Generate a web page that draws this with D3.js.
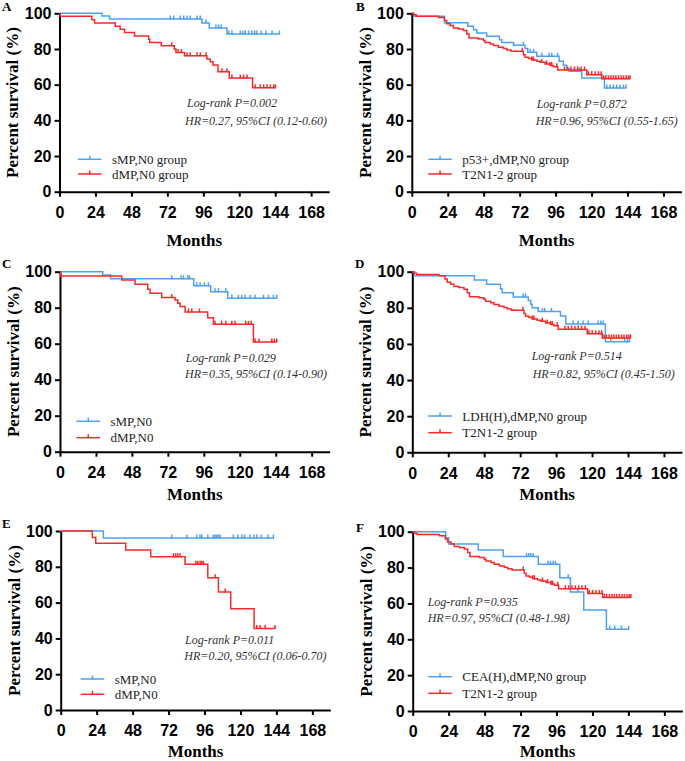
<!DOCTYPE html>
<html><head><meta charset="utf-8">
<script src="https://cdn.jsdelivr.net/npm/d3@7"></script>
<style>body{margin:0;background:#fff}svg{display:block}</style>
</head><body>
<svg id="c" width="685" height="761"></svg>
<script>
// ---------- data ----------
const xTicks = [0, 24, 48, 72, 96, 120, 144, 168];
const yTicks = [0, 20, 40, 60, 80, 100];

// Panel A
const A_sMP_steps = [[28.3, 98.5], [33.4, 96.8], [95.1, 94.6], [100, 91.8], [111.8, 88.4]];
const A_sMP_censor = [73.9, 76.2, 80.6, 82.9, 85.1, 87.3, 91.8, 94.0, 97.8, 104.4, 106.2, 108.0, 112.9, 115.1, 120.7, 122.5, 124.0, 126.3, 128.5, 130.3, 131.8, 134.7, 137.9, 141.9, 146.8];
const A_dMP_steps = [[0.5, 98.3], [21.6, 96.4], [23.4, 94.6], [37.2, 92.7], [40.5, 91.0], [43.4, 89.3], [50.1, 87.3], [59.5, 85.4], [60.2, 83.7], [67.9, 81.8], [76.6, 80.0], [77.7, 78.0], [83.5, 76.2], [98.4, 74.4], [100.7, 72.8], [102.5, 71.0], [105.8, 67.3], [113.3, 63.7], [128.9, 58.2]];
const A_dMP_censor = [75.0, 79.1, 81.3, 85.1, 87.3, 91.8, 94.0, 97.8, 108.5, 111.8, 115.1, 120.7, 122.9, 125.2, 130.7, 134.0, 136.3, 138.5, 140.8, 143.0, 144.1];

// T2N1-2 group (panels B, D, F)
const T2N12_steps = [[1, 99.2], [3, 98.4], [17.8, 97.7], [21.8, 95.9], [23.3, 94.2], [25.6, 93.1], [27.8, 91.8], [31.1, 91.2], [34.5, 90.3], [36.7, 88.4], [38.2, 86.1], [44.5, 85.6], [47.8, 84.7], [48.9, 83.7], [52.3, 82.8], [54.5, 81.9], [57.8, 80.9], [61.2, 80.2], [63.4, 79.4], [66.3, 78.7], [74.5, 76.8], [75.6, 75.3], [77.9, 74.6], [80.1, 73.8], [83.4, 73.1], [85.6, 72.5], [89.0, 71.6], [92.3, 70.8], [94.5, 70.1], [97.4, 68.2], [116.8, 65.6], [126.8, 63.3]];
const T2N12_censor = [73.8, 80.1, 81.2, 86.7, 90.0, 92.3, 93.4, 96.8, 101.9, 104.1, 106.3, 108.6, 110.8, 113.0, 115.3, 117.9, 120.1, 122.4, 124.6, 126.4, 128.0, 129.5, 131.3, 133.0, 134.6, 136.2, 137.9, 139.7, 141.3, 143.1, 144.6, 145.7];

// Panel B
const B_p53_steps = [[1.5, 98.3], [21.8, 94.7], [37.4, 92.7], [41.2, 90.8], [43.4, 88.9], [50.0, 87.1], [58.5, 85.2], [60.1, 83.7], [67.9, 82.1], [75.6, 80.2], [77.4, 78.1], [83.4, 75.9], [98.3, 73.1], [101.2, 70.9], [103.4, 68.9], [105, 67.5], [113.5, 63.7], [128.6, 58.1]];
const B_p53_censor = [74.5, 79.0, 81.2, 86.8, 91.6, 93.4, 97.4, 112.0, 130.2, 132.4, 134.6, 136.8, 139.0, 141.3, 143.0];

// Panel C
const C_sMP_steps = [[28.5, 98.2], [33.8, 96.1], [89.3, 92.2], [100.6, 88.9], [112, 85.2]];
const C_sMP_censor = [74.6, 80.8, 82.4, 85.3, 86.4, 91.3, 93.5, 96.4, 99.1, 103.5, 105.8, 110.7, 114.7, 119.1, 121.3, 123.6, 126.9, 130.2, 135.8, 139.2, 142.5, 144.7];
const C_dMP_steps = [[0.3, 97.6], [41.2, 95.4], [50.1, 93.0], [58.6, 90.2], [60.1, 88.0], [67.9, 85.6], [76.8, 84.3], [78.6, 82.5], [80.2, 80.6], [83.5, 77.6], [98.6, 74.4], [102.4, 70.8], [129.1, 60.9]];
const C_dMP_censor = [74.6, 85.7, 88.0, 93.1, 103.5, 107.9, 110.7, 114.7, 116.9, 124.0, 125.8, 127.6, 130.2, 132.9, 141.4, 143.1, 144.7];

// Panel D
const D_LDH_steps = [[1.4, 97.8], [41.4, 95.4], [49.6, 93.0], [58.9, 90.6], [60, 88.4], [67.4, 86.0], [77.4, 84.0], [79.1, 82.0], [80, 80.0], [84, 78.0], [98.9, 75.5], [102.5, 71.0], [128.9, 61.2]];
const D_LDH_censor = [74.0, 75.6, 86.9, 88.4, 92.9, 107.4, 110.7, 114.0, 117.4, 124.0, 125.8, 127.4, 132.5, 141.8, 143.6, 145.0];

// Panel E
const E_sMP_steps = [[28.5, 96.1]];
const E_sMP_censor = [74.1, 84.2, 90.8, 93.0, 94.2, 98.2, 101.9, 103.1, 104.2, 105.3, 106.4, 115.3, 118.2, 120.9, 122.7, 126.4, 129.1, 130.9, 133.8, 138.3, 142.0];
const E_dMP_steps = [[21.1, 96.3], [23.4, 93.1], [43.4, 89.4], [60.1, 85.6], [83.0, 81.4], [98.2, 73.9], [105.3, 65.9], [113.5, 56.6], [129.1, 45.6]];
const E_dMP_censor = [75.3, 76.8, 78.2, 79.7, 90.2, 91.5, 93.1, 94.2, 95.3, 103.1, 109.8, 130.9, 133.1, 136.5, 143.1];

// Panel F
const F_CEA_steps = [[22, 96.6], [24, 93.1], [43.8, 89.8], [60.4, 86.1], [83.8, 81.8], [98.2, 74.3], [105.3, 66.4], [114.2, 56.3], [129.3, 45.6]];
const F_CEA_censor = [76.0, 77.5, 78.9, 80.4, 90.4, 92.0, 93.8, 95.3, 103.8, 110.4, 131.5, 134.9, 139.3, 144.2];

const panelLetters = ["A", "B", "C", "D", "E", "F"];
const legendLabels = [
  ["sMP,N0 group", "dMP,N0 group"],
  ["p53+,dMP,N0 group", "T2N1-2 group"],
  ["sMP,N0", "dMP,N0"],
  ["LDH(H),dMP,N0 group", "T2N1-2 group"],
  ["sMP,N0", "dMP,N0"],
  ["CEA(H),dMP,N0 group", "T2N1-2 group"]
];
const statLines = [
  ["Log-rank P=0.002", "HR=0.27, 95%CI (0.12-0.60)"],
  ["Log-rank P=0.872", "HR=0.96, 95%CI (0.55-1.65)"],
  ["Log-rank P=0.029", "HR=0.35, 95%CI (0.14-0.90)"],
  ["Log-rank P=0.514", "HR=0.82, 95%CI (0.45-1.50)"],
  ["Log-rank P=0.011", "HR=0.20, 95%CI (0.06-0.70)"],
  ["Log-rank P=0.935", "HR=0.97, 95%CI (0.48-1.98)"]
];
const seriesSteps = [
  [A_sMP_steps, A_dMP_steps],
  [B_p53_steps, T2N12_steps],
  [C_sMP_steps, C_dMP_steps],
  [D_LDH_steps, T2N12_steps],
  [E_sMP_steps, E_dMP_steps],
  [F_CEA_steps, T2N12_steps]
];
const seriesCensor = [
  [A_sMP_censor, A_dMP_censor],
  [B_p53_censor, T2N12_censor],
  [C_sMP_censor, C_dMP_censor],
  [D_LDH_censor, T2N12_censor],
  [E_sMP_censor, E_dMP_censor],
  [F_CEA_censor, T2N12_censor]
];

// ---------- layout ----------
const colors = ["#4ea1f2", "#f52a2a"];
const SERIF = "'Liberation Serif', 'Times New Roman', Times, serif";
const SANS = "'Liberation Sans', Arial, Helvetica, sans-serif";
const layout = [
  {ox: 59.5, top: 13.3, bot: 191.7, leg: [146, 160.7], legX: 18.5, stat: [187, 107.3, 185, 125], let: [2, 11], mo: 54},
  {ox: 411.8, top: 13.3, bot: 191.7, leg: [146, 160.7], legX: 16.5, stat: [536.7, 108.3, 535.7, 125], let: [356, 11], mo: 54},
  {ox: 60, top: 271.7, bot: 451.7, leg: [149.6, 166], legX: 16.5, stat: [185.7, 361.7, 185, 378.3], let: [2, 268], mo: 48},
  {ox: 412.3, top: 271.7, bot: 452.3, leg: [144.3, 161], legX: 16, stat: [531.7, 360, 532.7, 377.7], let: [355, 268], mo: 48},
  {ox: 60.7, top: 531, bot: 710, leg: [148, 163.3], legX: 20, stat: [185, 644, 184.3, 660], let: [2, 528], mo: 47},
  {ox: 412.7, top: 531.7, bot: 711, leg: [145, 161.6], legX: 15.6, stat: [427.7, 606, 427.7, 621.7], let: [356, 532], mo: 46}
];
const pxPerMonth = 1.498;

const svg = d3.select("#c");

function survAt(steps, t) {
  let s = 100;
  for (const [tt, v] of steps) { if (tt <= t) s = v; }
  return s;
}

layout.forEach((L, i) => {
  const x = d3.scaleLinear().domain([0, 180]).range([L.ox, L.ox + 180 * pxPerMonth]);
  const y = d3.scaleLinear().domain([0, 100]).range([L.bot, L.top]);
  const g = svg.append("g");

  // axes
  const ya = g.append("g").attr("transform", `translate(${L.ox},0)`)
    .call(d3.axisLeft(y).tickValues(yTicks).tickSize(5).tickPadding(3).tickSizeOuter(0));
  const xa = g.append("g").attr("transform", `translate(0,${L.bot})`)
    .call(d3.axisBottom(x).tickValues(xTicks).tickSize(5).tickPadding(10).tickSizeOuter(0));
  [ya, xa].forEach(a => {
    a.select(".domain").attr("stroke", "#000").attr("stroke-width", 2);
    a.selectAll(".tick line").attr("stroke", "#000").attr("stroke-width", 2);
    a.selectAll("text").attr("font-family", SANS)
      .attr("font-weight", "bold").attr("font-size", 16).attr("fill", "#000");
  });

  // axis titles
  g.append("text").attr("x", x(90)).attr("y", L.bot + L.mo)
    .attr("text-anchor", "middle").attr("font-family", SERIF)
    .attr("font-weight", "bold").attr("font-size", 17).text("Months");
  g.append("text").attr("transform", `translate(${L.ox - 47},${(L.top + L.bot) / 2}) rotate(-90)`)
    .attr("text-anchor", "middle").attr("dy", "0.35em")
    .attr("font-family", SERIF)
    .attr("font-weight", "bold").attr("font-size", 17).text("Percent survival (%)");

  // panel letter
  g.append("text").attr("x", L.let[0]).attr("y", L.let[1])
    .attr("font-family", SERIF)
    .attr("font-weight", "bold").attr("font-size", 13).text(panelLetters[i]);

  // curves
  const line = d3.line().x(d => x(d[0])).y(d => y(d[1])).curve(d3.curveStepAfter);
  [0, 1].forEach(k => {
    const steps = seriesSteps[i][k];
    const cens = seriesCensor[i][k];
    const last = steps.length ? steps[steps.length - 1][1] : 100;
    const end = Math.max(d3.max(cens), steps[steps.length - 1][0]);
    const pts = [[0, 100], ...steps, [end, last]];
    g.append("path").attr("d", line(pts)).attr("fill", "none")
      .attr("stroke", colors[k]).attr("stroke-width", 1.5);
    g.selectAll(null).data(cens).enter().append("line")
      .attr("x1", d => x(d)).attr("x2", d => x(d))
      .attr("y1", d => y(survAt(steps, d)) - 3.5).attr("y2", d => y(survAt(steps, d)) + 0.5)
      .attr("stroke", colors[k]).attr("stroke-width", 1.5);
  });

  // legend
  [0, 1].forEach(k => {
    const ly = L.top + L.leg[k];
    const lx0 = L.ox + L.legX, lx1 = lx0 + 23.5;
    g.append("line").attr("x1", lx0).attr("x2", lx1).attr("y1", ly).attr("y2", ly)
      .attr("stroke", colors[k]).attr("stroke-width", 1.5);
    g.append("line").attr("x1", (lx0 + lx1) / 2).attr("x2", (lx0 + lx1) / 2)
      .attr("y1", ly - 3.5).attr("y2", ly + 0.5).attr("stroke", colors[k]).attr("stroke-width", 1.5);
    g.append("text").attr("x", lx1 + 10.5).attr("y", ly).attr("dy", "0.35em")
      .attr("font-family", SERIF)
      .attr("font-size", 13).attr("fill", "#222").text(legendLabels[i][k]);
  });

  // stats
  [0, 1].forEach(k => {
    g.append("text").attr("x", L.stat[k * 2]).attr("y", L.stat[k * 2 + 1])
      .attr("font-family", SERIF)
      .attr("font-style", "italic").attr("font-size", 12).attr("fill", "#333")
      .text(statLines[i][k]);
  });
});
</script>
</body></html>
